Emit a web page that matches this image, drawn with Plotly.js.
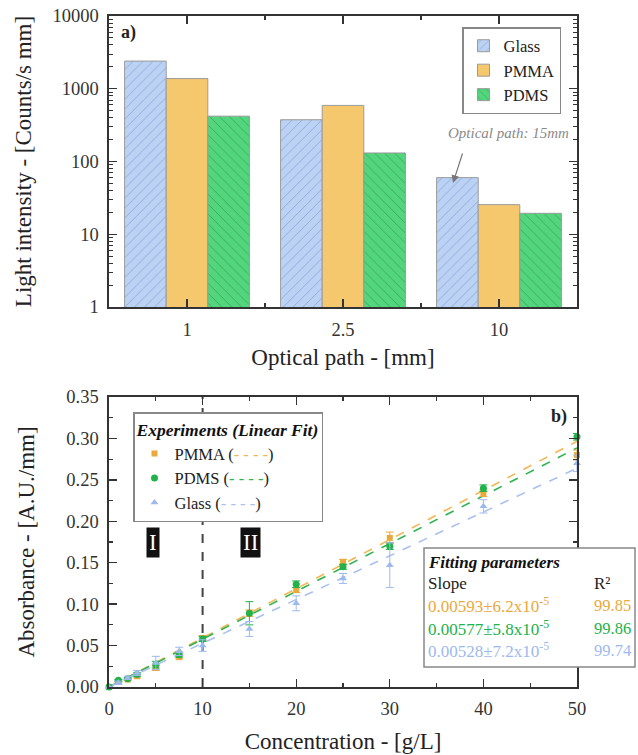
<!DOCTYPE html>
<html>
<head>
<meta charset="utf-8">
<script src="https://cdn.plot.ly/plotly-3.0.1.min.js"></script>
<style>body{margin:0;background:#fff;} #chart{width:638px;height:755px;}</style>
</head>
<body>
<div id="chart"></div>
<script>
// ---- Panel a) data ----
const pathCategories = ['1', '2.5', '10'];
const glassIntensity = [2400, 375, 60];
const pmmaIntensity = [1380, 590, 25.5];
const pdmsIntensity = [420, 131, 19.4];
const intensityTicks = [1, 10, 100, 1000, 10000];
const intensityTickText = ['1', '10', '100', '1000', '10000'];

// ---- Panel b) data ----
const concentration = [0, 1, 2, 3, 5, 7.5, 10, 15, 20, 25, 30, 40, 50];
const pmmaAbs = [0, 0.006, 0.009, 0.013, 0.023, 0.036, 0.059, 0.089, 0.117, 0.151, 0.180, 0.234, 0.280];
const pmmaErr = [0, 0.001, 0.001, 0.002, 0.003, 0.002, 0.003, 0.004, 0.003, 0.003, 0.007, 0.004, 0.006];
const pdmsAbs = [0, 0.008, 0.010, 0.015, 0.027, 0.039, 0.058, 0.089, 0.124, 0.145, 0.170, 0.240, 0.302];
const pdmsErr = [0, 0.001, 0.001, 0.002, 0.004, 0.003, 0.003, 0.014, 0.004, 0.003, 0.004, 0.004, 0.004];
const glassAbs = [0, 0.005, 0.011, 0.017, 0.029, 0.043, 0.050, 0.070, 0.101, 0.131, 0.147, 0.218, 0.270];
const glassErr = [0, 0.002, 0.002, 0.003, 0.008, 0.005, 0.007, 0.009, 0.009, 0.006, 0.027, 0.008, 0.010];
const fitX = [0, 50];
const pmmaFit = [0, 0.2965];
const pdmsFit = [0, 0.2885];
const glassFit = [0, 0.264];
const fitSlopes = ['0.00593±6.2x10<sup>-5</sup>', '0.00577±5.8x10<sup>-5</sup>', '0.00528±7.2x10<sup>-5</sup>'];
const fitR2 = ['99.85', '99.86', '99.74'];

const FONT = 'Liberation Serif, Times New Roman, serif';
const cOrange = '#eaa93c', cGreen = '#22b24a', cBlue = '#9db9ee';
const cOrangeLine = '#f2b652', cGreenLine = '#2bb44f', cBlueLine = '#aac0f0';

const catIdx = pathCategories.map((c, i) => i);

const traces = [
  {type: 'bar', name: 'Glass', x: catIdx, y: glassIntensity, xaxis: 'x', yaxis: 'y', legend: 'legend2',
   marker: {color: '#bcd2f4', line: {color: '#9a9a9a', width: 1},
            pattern: {shape: '/', fgcolor: '#8aa6d6', bgcolor: '#bcd2f4', size: 7, solidity: 0.12}}},
  {type: 'bar', name: 'PMMA', x: catIdx, y: pmmaIntensity, xaxis: 'x', yaxis: 'y', legend: 'legend2',
   marker: {color: '#f5c86e', line: {color: '#9a9a9a', width: 1}}},
  {type: 'bar', name: 'PDMS', x: catIdx, y: pdmsIntensity, xaxis: 'x', yaxis: 'y', legend: 'legend2',
   marker: {color: '#52d57c', line: {color: '#9a9a9a', width: 1},
            pattern: {shape: '\\', fgcolor: '#36a85a', bgcolor: '#52d57c', size: 7, solidity: 0.12}}},

  {type: 'scatter', mode: 'lines', x: fitX, y: pmmaFit, xaxis: 'x2', yaxis: 'y2', showlegend: false,
   line: {color: cOrangeLine, dash: 'dash', width: 1.6}, hoverinfo: 'skip'},
  {type: 'scatter', mode: 'lines', x: fitX, y: pdmsFit, xaxis: 'x2', yaxis: 'y2', showlegend: false,
   line: {color: cGreenLine, dash: 'dash', width: 1.6}, hoverinfo: 'skip'},
  {type: 'scatter', mode: 'lines', x: fitX, y: glassFit, xaxis: 'x2', yaxis: 'y2', showlegend: false,
   line: {color: cBlueLine, dash: 'dash', width: 1.6}, hoverinfo: 'skip'},

  {type: 'scatter', mode: 'markers', name: 'PMMA (<span style="color:' + cOrangeLine + '">- - - -</span>)',
   x: concentration, y: pmmaAbs, xaxis: 'x2', yaxis: 'y2', cliponaxis: false,
   marker: {symbol: 'square', size: 6, color: cOrange},
   error_y: {type: 'data', array: pmmaErr, color: cOrange, thickness: 1, width: 4}},
  {type: 'scatter', mode: 'markers', name: 'PDMS (<span style="color:' + cGreenLine + '">- - - -</span>)',
   x: concentration, y: pdmsAbs, xaxis: 'x2', yaxis: 'y2', cliponaxis: false,
   marker: {symbol: 'circle', size: 7, color: cGreen},
   error_y: {type: 'data', array: pdmsErr, color: cGreen, thickness: 1, width: 4}},
  {type: 'scatter', mode: 'markers', name: 'Glass (<span style="color:' + cBlueLine + '">- - - -</span>)',
   x: concentration, y: glassAbs, xaxis: 'x2', yaxis: 'y2', cliponaxis: false,
   marker: {symbol: 'triangle-up', size: 7, color: cBlue},
   error_y: {type: 'data', array: glassErr, color: cBlue, thickness: 1, width: 4}}
];

const axisCommon = {
  showline: true, linecolor: '#333', linewidth: 1.6, mirror: 'allticks',
  ticks: 'inside', ticklen: 8, tickwidth: 1.3, tickcolor: '#333',
  showgrid: false, zeroline: false, fixedrange: true, ticklabelstandoff: 5,
  tickfont: {family: FONT, size: 18.5, color: '#333'}
};
const titleFont = {family: FONT, size: 23, color: '#222'};

// paper coords from pixels (plot paper spans x 109..577, y 16..687)
const py = p => (687 - p) / 671;
const pxp = p => (p - 109) / 468;

const annotations = [
  {xref: 'paper', yref: 'paper', x: pxp(119), y: py(33), xanchor: 'left', yanchor: 'middle',
   text: '<b>a)</b>', showarrow: false, font: {family: FONT, size: 18, color: '#222'}},
  {xref: 'paper', yref: 'paper', x: pxp(569), y: py(417), xanchor: 'right', yanchor: 'middle',
   text: '<b>b)</b>', showarrow: false, font: {family: FONT, size: 18, color: '#222'}},
  {xref: 'x', yref: 'y', x: 2.058, y: 2.392, text: '<i>Optical path: 15mm</i>', showarrow: false,
   xanchor: 'center', yanchor: 'middle', font: {family: FONT, size: 15, color: '#8a8a8a'}},
  {xref: 'x', yref: 'y', x: 1.705, y: 1.704, text: '', showarrow: true, ax: 10, ay: -31,
   arrowhead: 2, arrowsize: 1.3, arrowwidth: 1.2, arrowcolor: '#777'},
  {xref: 'x2', yref: 'y2', x: 4.7, y: 0.175, text: 'I', showarrow: false, bgcolor: '#111',
   borderpad: 2, font: {family: FONT, size: 23, color: '#fff'}},
  {xref: 'x2', yref: 'y2', x: 15.1, y: 0.175, text: 'II', showarrow: false, bgcolor: '#111',
   borderpad: 2, font: {family: FONT, size: 23, color: '#fff'}},
  {xref: 'paper', yref: 'paper', x: pxp(426), y: py(562), xanchor: 'left', yanchor: 'middle',
   text: '<b><i>Fitting parameters</i></b>', showarrow: false, font: {family: FONT, size: 17, color: '#111'}},
  {xref: 'paper', yref: 'paper', x: pxp(426), y: py(583), xanchor: 'left', yanchor: 'middle',
   text: 'Slope', showarrow: false, font: {family: FONT, size: 17, color: '#222'}},
  {xref: 'paper', yref: 'paper', x: pxp(592), y: py(583), xanchor: 'left', yanchor: 'middle',
   text: 'R²', showarrow: false, font: {family: FONT, size: 17, color: '#222'}}
];
const fitColors = [cOrange, cGreen, cBlue];
const fitRowsY = [605, 628, 650];
fitSlopes.forEach((s, i) => {
  annotations.push({xref: 'paper', yref: 'paper', x: pxp(426), y: py(fitRowsY[i]), xanchor: 'left', yanchor: 'middle',
    text: s, showarrow: false, font: {family: FONT, size: 17, color: fitColors[i]}});
  annotations.push({xref: 'paper', yref: 'paper', x: pxp(592), y: py(fitRowsY[i]), xanchor: 'left', yanchor: 'middle',
    text: fitR2[i], showarrow: false, font: {family: FONT, size: 16.5, color: fitColors[i]}});
});

const layout = {
  width: 638, height: 755,
  margin: {l: 109, r: 61, t: 16, b: 68},
  paper_bgcolor: '#fff', plot_bgcolor: '#fff',
  font: {family: FONT, color: '#222'},
  barmode: 'group', bargap: 0.2, bargroupgap: 0,
  xaxis: Object.assign({}, axisCommon, {
    anchor: 'y', domain: [0, 1], range: [-0.5, 2.5],
    tickmode: 'array', tickvals: catIdx, ticktext: pathCategories,
    minor: {tickmode: 'array', tickvals: [0.5, 1.5], ticks: 'inside', ticklen: 4, tickwidth: 1.2, tickcolor: '#333'},
    title: {text: 'Optical path - [mm]', font: titleFont, standoff: 10}
  }),
  yaxis: Object.assign({}, axisCommon, {
    anchor: 'x', domain: [py(307), 1], type: 'log', range: [0, 4],
    tickmode: 'array', tickvals: intensityTicks, ticktext: intensityTickText,
    minor: {dtick: 'D1', ticks: 'inside', ticklen: 4, tickwidth: 1, tickcolor: '#333'},
    title: {text: 'Light intensity - [Counts/s mm]', font: titleFont, standoff: 14}
  }),
  xaxis2: Object.assign({}, axisCommon, {
    anchor: 'y2', domain: [0, 1], range: [0, 50], dtick: 10, tick0: 0, ticklabelstandoff: 4,
    minor: {dtick: 5, ticks: 'inside', ticklen: 4, tickwidth: 1.2, tickcolor: '#333'},
    title: {text: 'Concentration - [g/L]', font: titleFont, standoff: 15}
  }),
  yaxis2: Object.assign({}, axisCommon, {
    anchor: 'x2', domain: [0, py(397)], range: [0, 0.35], dtick: 0.05, tick0: 0, tickformat: '.2f',
    minor: {dtick: 0.025, ticks: 'inside', ticklen: 4, tickwidth: 1.2, tickcolor: '#333'},
    title: {text: 'Absorbance - [A.U./mm]', font: titleFont, standoff: 25}
  }),
  legend: {
    x: pxp(133), y: py(412), xanchor: 'left', yanchor: 'top',
    bgcolor: '#fff', bordercolor: '#888', borderwidth: 1.5,
    font: {family: FONT, size: 16.5, color: '#222'},
    title: {text: '<b><i>Experiments (Linear Fit)</i></b>', side: 'top', font: {family: FONT, size: 17.5, color: '#111'}},
    tracegroupgap: 0, itemwidth: 30
  },
  legend2: {
    x: pxp(462), y: py(27), xanchor: 'left', yanchor: 'top',
    bgcolor: '#fff', bordercolor: '#888', borderwidth: 1.5,
    font: {family: FONT, size: 16.5, color: '#222'}, itemwidth: 30
  },
  shapes: [
    {type: 'line', xref: 'x2', yref: 'y2', x0: 10, x1: 10, y0: 0, y1: 0.35,
     line: {color: '#444', width: 2, dash: 'dash'}, layer: 'below'},
    {type: 'rect', xref: 'paper', yref: 'paper', x0: pxp(424), x1: pxp(635), y0: py(667), y1: py(548),
     fillcolor: '#fff', line: {color: '#888', width: 1.5}, layer: 'above'}
  ],
  annotations: annotations
};

Plotly.newPlot('chart', traces, layout, {staticPlot: true, displayModeBar: false});
</script>
</body>
</html>
